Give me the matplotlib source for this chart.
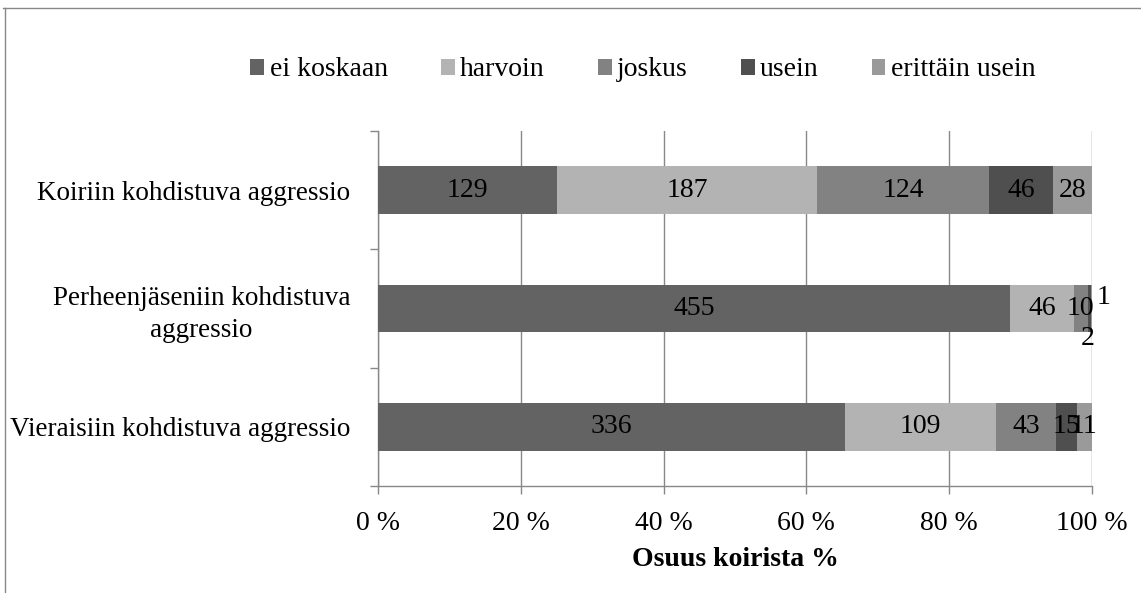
import matplotlib
matplotlib.use("Agg")
import matplotlib.pyplot as plt
from matplotlib.patches import Patch
from matplotlib.lines import Line2D
import numpy as np

plt.rcParams['font.family'] = ['Liberation Serif', 'DejaVu Serif']

categories = ["Koiriin kohdistuva aggressio",
              "Perheenjäseniin kohdistuva\naggressio",
              "Vieraisiin kohdistuva aggressio"]
series_names = ["ei koskaan", "harvoin", "joskus", "usein", "erittäin usein"]
ei_koskaan = [129, 455, 336]
harvoin = [187, 46, 109]
joskus = [124, 10, 43]
usein = [46, 2, 15]
erittain_usein = [28, 1, 11]
colors = ["#636363", "#b3b3b3", "#828282", "#4f4f4f", "#9a9a9a"]
xticks = [0, 20, 40, 60, 80, 100]
xticklabels = ["0 %", "20 %", "40 %", "60 %", "80 %", "100 %"]
xlabel = "Osuus koirista %"

W, H = 1141, 593
FS = 20
GRAY = "#888888"

fig = plt.figure(figsize=(W / 100, H / 100), dpi=100)
ax = fig.add_axes([378 / W, 1 - 486 / H, 714 / W, 355 / H])

data = np.array([ei_koskaan, harvoin, joskus, usein, erittain_usein], dtype=float)
totals = data.sum(axis=0)
pct = data / totals * 100
y = np.arange(len(categories))

left = np.zeros(len(categories))
# special offsets (in pixels) for crowded labels: (series, row) -> (dx, dy)
offsets = {(3, 1): (-2, -30), (4, 1): (12, 11)}
for i, name in enumerate(series_names):
    ax.barh(y, pct[i], left=left, height=0.4, color=colors[i], label=name,
            zorder=3, linewidth=0)
    for j in range(len(categories)):
        cx = left[j] + pct[i][j] / 2
        dx, dy = offsets.get((i, j), (0, 0))
        ax.annotate(f"{int(data[i][j])}", (cx, y[j]),
                    xytext=(dx * 0.72, dy * 0.72), textcoords="offset points",
                    ha="center", va="center", fontsize=FS, color="black",
                    zorder=5)
    left += pct[i]

ax.set_xlim(0, 100)
ax.set_ylim(2.5, -0.5)
ax.set_xticks(xticks)
ax.set_xticklabels(xticklabels, fontsize=FS)
ax.set_yticks(y)
ax.set_yticklabels(categories, fontsize=19.5, multialignment="center",
                   linespacing=1.35)
ax.set_yticks([-0.5, 0.5, 1.5, 2.5], minor=True)
ax.tick_params(axis="y", which="major", length=0, pad=20)
ax.tick_params(axis="y", which="minor", length=5.8, color=GRAY, width=1)
ax.tick_params(axis="x", which="major", length=5.8, color=GRAY, width=1, pad=12)
ax.grid(axis="x", color=GRAY, linewidth=1, zorder=0)
for s in ["top", "right"]:
    ax.spines[s].set_visible(False)
for s in ["left", "bottom"]:
    ax.spines[s].set_color(GRAY)
    ax.spines[s].set_linewidth(1)
ax.set_xlabel(xlabel, fontsize=FS, fontweight="bold", labelpad=8)

handles = [Patch(facecolor=c, edgecolor="none") for c in colors]
fig.legend(handles, series_names, loc="center", ncol=5, frameon=False,
           bbox_to_anchor=(643 / W, 1 - 70 / H), fontsize=FS,
           handlelength=0.5, handleheight=0.5, handletextpad=0.2,
           columnspacing=1.9, borderaxespad=0)

# outer chart border (top and left visible)
fig.add_artist(Line2D([3 / W, 1], [1 - 8 / H, 1 - 8 / H], transform=fig.transFigure,
                      color=GRAY, linewidth=1))
fig.add_artist(Line2D([5 / W, 5 / W], [0, 1 - 8 / H], transform=fig.transFigure,
                      color=GRAY, linewidth=1))

fig.savefig("out.png", dpi=100)
